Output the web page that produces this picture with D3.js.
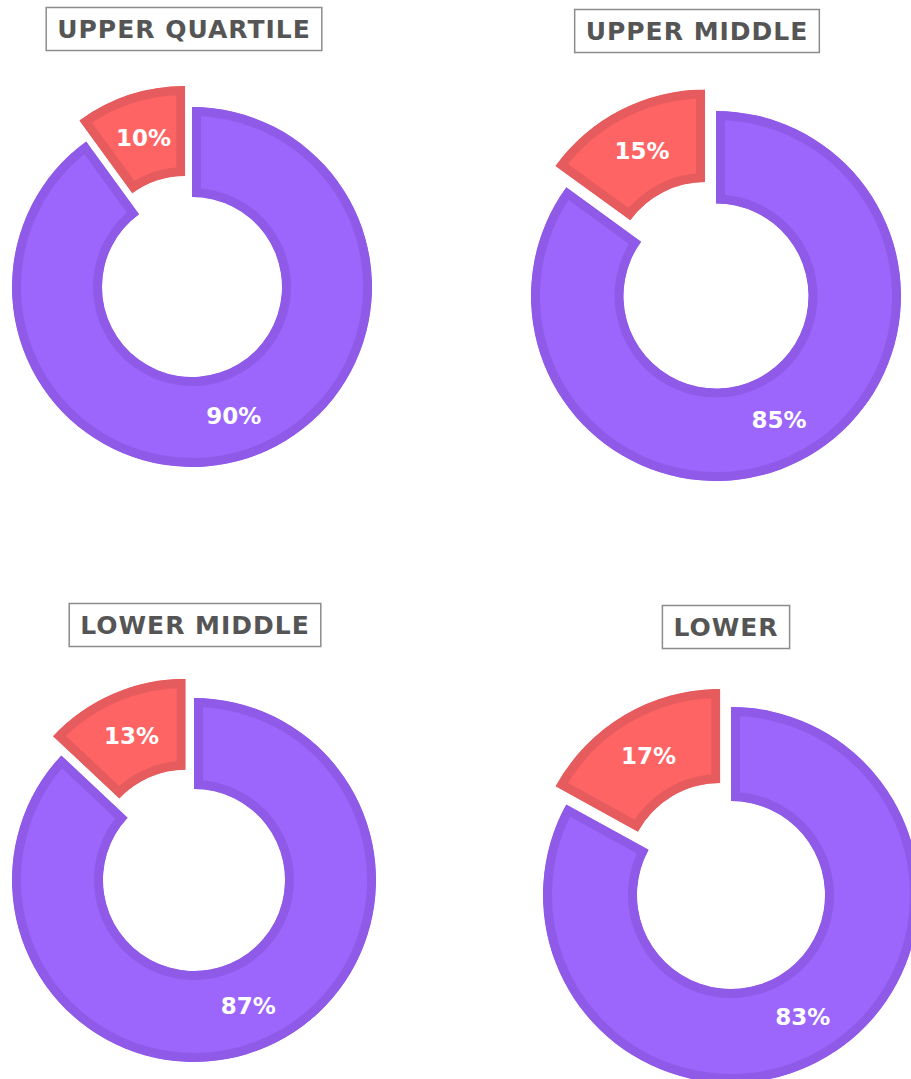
<!DOCTYPE html>
<html>
<head>
<meta charset="utf-8">
<script src="https://cdn.jsdelivr.net/npm/d3@7"></script>
<style>
	html, body { margin: 0; padding: 0; background: #fff; }
	svg { display: block; }
</style>
</head>
<body>
<svg id="chart" width="911" height="1079"></svg>
<script>
// ---- data ----
const groups = ['UPPER QUARTILE', 'UPPER MIDDLE', 'LOWER MIDDLE', 'LOWER'];
const majorValues = [90, 85, 87, 83];
const minorValues = [10, 15, 13, 17];

// ---- layout (one entry per panel) ----
const panelCenters = [[192, 287], [716, 296], [194, 880], [731, 895]];
const panelRadii = [180, 185, 182, 188];
const panelOffsets = [22, 24, 21, 21];
const titleCenters = [[184, 29], [697, 31], [195, 625], [726, 627]];

const defaultConfig = {
	innerRatio: 0.5,
	borderWidth: 9,
	titleFontSize: 25,
	titleBoxHeight: 43,
	titlePadding: 11,
	labelFontSize: 23,
	font: '"DejaVu Sans", sans-serif',
};

const theme = {
	major: { fill: '#9c66fd', stroke: '#905ae8' },
	minor: { fill: '#ff6464', stroke: '#e65c5e' },
	title: '#555555',
	titleBorder: '#8c8c8c',
	label: '#ffffff',
};

const svg = d3.select('#chart');
const defs = svg.append('defs');

const pie = d3.pie().sort(null).value((d) => d.value);

const components = {
	title: (i) => {
		const [tx, ty] = titleCenters[i];
		const g = svg.append('g').attr('class', 'title');

		const text = g
			.append('text')
			.attr('x', tx)
			.attr('y', ty + defaultConfig.titleFontSize * 0.36)
			.attr('text-anchor', 'middle')
			.style('font-family', defaultConfig.font)
			.style('font-weight', 700)
			.style('font-size', `${defaultConfig.titleFontSize}px`)
			.style('letter-spacing', '1px')
			.style('fill', theme.title)
			.text(groups[i]);

		const w = text.node().getComputedTextLength() + defaultConfig.titlePadding * 2;
		g.insert('rect', 'text')
			.attr('x', tx - w / 2)
			.attr('y', ty - defaultConfig.titleBoxHeight / 2)
			.attr('width', w)
			.attr('height', defaultConfig.titleBoxHeight)
			.attr('fill', 'none')
			.attr('stroke', theme.titleBorder)
			.attr('stroke-width', 1.5);
	},

	donut: (i) => {
		const [cx, cy] = panelCenters[i];
		const outer = panelRadii[i];
		const arc = d3
			.arc()
			.innerRadius(outer * defaultConfig.innerRatio)
			.outerRadius(outer);

		const slices = pie([
			{ key: 'major', value: majorValues[i] },
			{ key: 'minor', value: minorValues[i] },
		]);

		const g = svg
			.append('g')
			.attr('class', 'donut')
			.attr('transform', `translate(${cx},${cy})`);

		slices.forEach((s, j) => {
			const mid = (s.startAngle + s.endAngle) / 2;
			const off = s.data.key === 'minor' ? panelOffsets[i] : 0;
			const dx = Math.sin(mid) * off;
			const dy = -Math.cos(mid) * off;
			const id = `clip-${i}-${j}`;
			const d = arc(s);

			// border is drawn inside the slice only
			defs.append('clipPath').attr('id', id).append('path').attr('d', d);

			const sg = g.append('g').attr('transform', `translate(${dx},${dy})`);
			sg.append('path')
				.attr('d', d)
				.attr('clip-path', `url(#${id})`)
				.attr('fill', theme[s.data.key].fill)
				.attr('stroke', theme[s.data.key].stroke)
				.attr('stroke-width', defaultConfig.borderWidth * 2)
				.attr('stroke-linejoin', 'miter');

			const [lx, ly] = arc.centroid(s);
			sg.append('text')
				.attr('x', lx)
				.attr('y', ly)
				.attr('dy', '0.36em')
				.attr('text-anchor', 'middle')
				.style('font-family', defaultConfig.font)
				.style('font-weight', 700)
				.style('font-size', `${defaultConfig.labelFontSize}px`)
				.style('fill', theme.label)
				.text(`${s.data.value}%`);
		});
	},
};

groups.forEach((_, i) => {
	components.donut(i);
	components.title(i);
});
</script>
</body>
</html>
